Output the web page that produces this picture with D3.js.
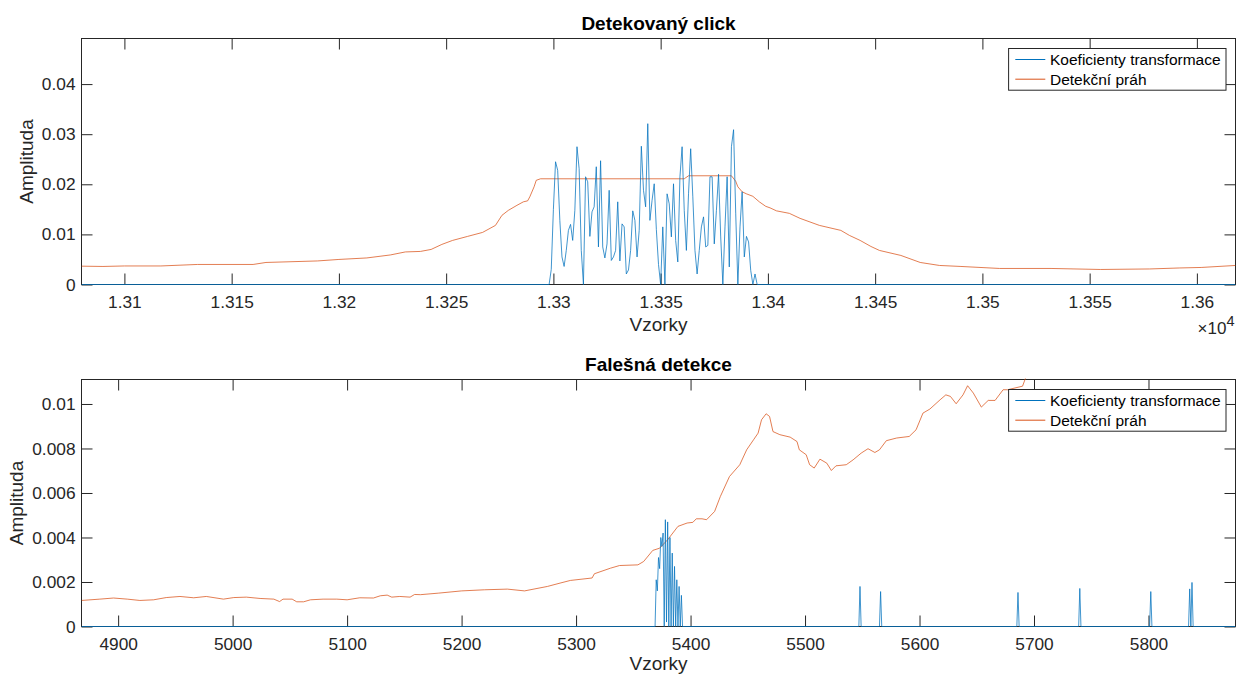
<!DOCTYPE html>
<html>
<head>
<meta charset="utf-8">
<script src="https://cdn.jsdelivr.net/npm/d3@7"></script>
<style>
  html, body { margin: 0; padding: 0; background: #fff; }
  svg { display: block; font-family: "Liberation Sans", Arial, Helvetica, sans-serif; }
</style>
</head>
<body>
<svg id="chart" width="1237" height="675"></svg>
<script>
// ── shared ──
const legendLabels = ['Koeficienty transformace', 'Detekční práh'];
const xLabel = 'Vzorky';
const yLabel = 'Amplituda';

// ── panel 1: Detekovaný click ──
const clickTitle = 'Detekovaný click';
const clickXDomain = [13080, 13618];
const clickYDomain = [0, 0.0491];
const clickXTicks = [13100, 13150, 13200, 13250, 13300, 13350, 13400, 13450, 13500, 13550, 13600];
const clickXTickLabels = ['1.31', '1.315', '1.32', '1.325', '1.33', '1.335', '1.34', '1.345', '1.35', '1.355', '1.36'];
const clickYTicks = [0, 0.01, 0.02, 0.03, 0.04];
const clickYTickLabels = ['0', '0.01', '0.02', '0.03', '0.04'];
const clickXExponent = '4';

// coefficients, one per sample starting at clickBurstStart (zero elsewhere)
const clickBurstStart = 13298;
const clickCoefs = [
  0, 0.003, 0.015, 0.0245, 0.0228, 0.0128, 0.0055, 0.0036, 0.0068, 0.0108,
  0.012, 0.0088, 0.0148, 0.0275, 0.0231, 0.0068, 0, 0.0215, 0.0205, 0.0096,
  0.0145, 0.0155, 0.0235, 0.0075, 0.0247, 0.0075, 0.0053, 0.0081, 0.0188, 0.0048,
  0.0055, 0.0068, 0.0165, 0.0047, 0.0121, 0.0115, 0.0021, 0.0029, 0.0068, 0.0147,
  0.0128, 0.0055, 0.0108, 0.0276, 0.0188, 0.0155, 0.0321, 0.0128, 0.0168, 0.0201,
  0.011, 0.004, 0, 0.0115, 0, 0.0181, 0.0161, 0.0095, 0.0201, 0.0088,
  0.0045, 0.0215, 0.0275, 0.0148, 0.0068, 0.0181, 0.0271, 0.0175, 0.0068, 0.0021,
  0.0068, 0.0115, 0.0135, 0.0075, 0.0078, 0.0215, 0.0215, 0.0081, 0.0148, 0.022,
  0.0095, 0, 0.0115, 0.0215, 0.0035, 0.0275, 0.0309, 0.0141, 0, 0.0115,
  0.0185, 0.0055, 0.0096, 0.0085, 0.0028, 0, 0.0021, 0
];
const clickThrSamples = [
  13080, 13090, 13100, 13117, 13134, 13160, 13166, 13190, 13200, 13213,
  13224, 13231, 13238, 13243, 13248, 13253, 13260, 13267, 13273, 13276,
  13279, 13283, 13286, 13288, 13289, 13291, 13292, 13294, 13361, 13363,
  13383, 13385, 13386, 13388, 13390, 13393, 13396, 13399, 13401, 13404,
  13410, 13415, 13424, 13434, 13438, 13443, 13448, 13452, 13462, 13471,
  13480, 13490, 13508, 13532, 13555, 13578, 13592, 13602, 13618
];
const clickThrValues = [
  0.00366, 0.0036, 0.0037, 0.0037, 0.004, 0.004, 0.0044, 0.0047, 0.005, 0.0053,
  0.0059, 0.0065, 0.0066, 0.007, 0.008, 0.0088, 0.0096, 0.0104, 0.0118, 0.0138,
  0.0148, 0.0158, 0.0165, 0.0167, 0.0175, 0.0195, 0.0208, 0.0211, 0.0211, 0.0217,
  0.0217, 0.0206, 0.0195, 0.0185, 0.0181, 0.0176, 0.0165, 0.0156, 0.0153, 0.0147,
  0.0142, 0.0132, 0.0118, 0.0108, 0.0098, 0.0088, 0.0076, 0.0068, 0.0058, 0.0044,
  0.0038, 0.0036, 0.0032, 0.0032, 0.003, 0.0031, 0.0033, 0.0034, 0.0038
];

// ── panel 2: Falešná detekce ──
const falseTitle = 'Falešná detekce';
const falseXDomain = [4868, 5876];
const falseYDomain = [0, 0.0111];
const falseXTicks = [4900, 5000, 5100, 5200, 5300, 5400, 5500, 5600, 5700, 5800];
const falseXTickLabels = ['4900', '5000', '5100', '5200', '5300', '5400', '5500', '5600', '5700', '5800'];
const falseYTicks = [0, 0.002, 0.004, 0.006, 0.008, 0.01];
const falseYTickLabels = ['0', '0.002', '0.004', '0.006', '0.008', '0.01'];

const falseClusterStart = 5369;
const falseCluster = [
  0, 0.0021, 0.0016, 0.0031, 0.0026, 0.004, 0.0036, 0.0042, 0, 0.0048,
  0.0002, 0.0047, 0, 0.004, 0, 0.0033, 0, 0.0027, 0, 0.0021,
  0, 0.0018, 0, 0.0014, 0
];
const falseSpikeSamples = [5548, 5566, 5686, 5740, 5802, 5836, 5838];
const falseSpikeValues = [0.0018, 0.00157, 0.00153, 0.00171, 0.00157, 0.00169, 0.00198];

const falseThrSamples = [
  4868, 4884, 4896, 4908, 4919, 4931, 4942, 4954, 4966, 4977,
  4992, 5001, 5012, 5024, 5036, 5041, 5044, 5052, 5056, 5062,
  5068, 5079, 5091, 5100, 5111, 5123, 5129, 5135, 5139, 5146,
  5155, 5159, 5164, 5180, 5200, 5220, 5240, 5255, 5265, 5275,
  5286, 5295, 5314, 5316, 5330, 5338, 5354, 5359, 5367, 5373,
  5380, 5389, 5397, 5402, 5405, 5410, 5414, 5421, 5426, 5434,
  5443, 5449, 5455, 5459, 5462, 5466, 5469, 5472, 5478, 5487,
  5493, 5495, 5501, 5504, 5508, 5513, 5519, 5523, 5527, 5536,
  5542, 5549, 5555, 5561, 5565, 5571, 5580, 5591, 5597, 5603,
  5609, 5618, 5623, 5627, 5632, 5638, 5642, 5647, 5654, 5660,
  5666, 5673, 5677, 5690, 5695, 5720, 5800, 5876
];
const falseThrValues = [
  0.00117, 0.00123, 0.00128, 0.00123, 0.00117, 0.0012, 0.0013, 0.00135, 0.00129, 0.00135,
  0.00123, 0.0013, 0.00132, 0.00126, 0.00123, 0.00112, 0.00123, 0.00123, 0.00111, 0.00111,
  0.0012, 0.00123, 0.00123, 0.0012, 0.00129, 0.00128, 0.00138, 0.00141, 0.00132, 0.00135,
  0.00132, 0.00144, 0.00143, 0.0015, 0.0016, 0.00165, 0.00168, 0.0016, 0.0017, 0.0018,
  0.00195, 0.00207, 0.00218, 0.00237, 0.00262, 0.00274, 0.00277, 0.00292, 0.00342, 0.00352,
  0.0039, 0.0045, 0.00465, 0.00468, 0.00484, 0.00484, 0.0048, 0.00517, 0.00584, 0.00674,
  0.00727, 0.00794, 0.00839, 0.00869, 0.00929, 0.00956, 0.00944, 0.00876, 0.00862, 0.00851,
  0.00831, 0.00794, 0.00772, 0.00727, 0.00712, 0.00752, 0.00734, 0.00701, 0.00722, 0.00727,
  0.00749, 0.00779, 0.00799, 0.00782, 0.00794, 0.00835, 0.00847, 0.00854, 0.00884, 0.00959,
  0.00977, 0.01019, 0.01041, 0.01034, 0.01001, 0.01041, 0.01082, 0.01049, 0.00986, 0.01016,
  0.01016, 0.01064, 0.01064, 0.0108, 0.0115, 0.0135, 0.015, 0.016
];

// ── style ──
const BLUE = '#0072BD', ORANGE = '#D95319', AX = '#262626';
const TICK_FS = 17.3, LABEL_FS = 19, LEGEND_FS = 15.5, TICK_LEN = 11;
const LINE_W = 0.75;

const svg = d3.select('#chart');

function coefPoints(xDomain, start, vals, spikes = [], spikeVals = []) {
  const pts = [[xDomain[0], 0]];
  vals.forEach((v, i) => pts.push([start + i, v]));
  spikes.forEach((s, i) => pts.push([s - 1, 0], [s, spikeVals[i]], [s + 1, 0]));
  pts.push([xDomain[1], 0]);
  return pts.sort((a, b) => a[0] - b[0]);
}

function drawPanel(p) {
  const x = d3.scaleLinear(p.xDomain, [p.left, p.right]);
  const y = d3.scaleLinear(p.yDomain, [p.bottom, p.top]);
  const g = svg.append('g');

  const styleAxis = sel => {
    sel.select('.domain').remove();
    sel.attr('color', AX).attr('font-family', null).attr('font-size', TICK_FS);
    sel.selectAll('.tick line').attr('stroke-width', 1);
    sel.selectAll('.tick text').attr('fill', AX);
  };

  g.append('g').attr('transform', `translate(0,${p.bottom})`)
    .call(d3.axisBottom(x).tickValues(p.xTicks).tickFormat((d, i) => p.xTickLabels[i])
      .tickSizeInner(-TICK_LEN).tickSizeOuter(0).tickPadding(11.5))
    .call(styleAxis);
  g.append('g').attr('transform', `translate(0,${p.top})`)
    .call(d3.axisTop(x).tickValues(p.xTicks).tickFormat('')
      .tickSizeInner(-TICK_LEN).tickSizeOuter(0))
    .call(styleAxis);
  g.append('g').attr('transform', `translate(${p.left},0)`)
    .call(d3.axisLeft(y).tickValues(p.yTicks).tickFormat((d, i) => p.yTickLabels[i])
      .tickSizeInner(-TICK_LEN).tickSizeOuter(0).tickPadding(6))
    .call(styleAxis);
  g.append('g').attr('transform', `translate(${p.right},0)`)
    .call(d3.axisRight(y).tickValues(p.yTicks).tickFormat('')
      .tickSizeInner(-TICK_LEN).tickSizeOuter(0))
    .call(styleAxis);

  g.append('rect')
    .attr('x', p.left).attr('y', p.top)
    .attr('width', p.right - p.left).attr('height', p.bottom - p.top)
    .attr('fill', 'none').attr('stroke', AX).attr('stroke-width', 1);

  // data
  svg.append('clipPath').attr('id', 'clip-' + p.id).append('rect')
    .attr('x', p.left).attr('y', p.top - 1)
    .attr('width', p.right - p.left).attr('height', p.bottom - p.top + 2);

  const line = d3.line().x(d => x(d[0])).y(d => y(d[1]));
  const data = g.append('g').attr('clip-path', `url(#clip-${p.id})`);
  data.append('path').datum(p.thr)
    .attr('d', line).attr('fill', 'none').attr('stroke', ORANGE).attr('stroke-width', LINE_W);
  data.append('path').datum(p.coef)
    .attr('d', line).attr('fill', 'none').attr('stroke', BLUE).attr('stroke-width', LINE_W);

  // title and labels
  g.append('text')
    .attr('x', (p.left + p.right) / 2).attr('y', p.top - 9)
    .attr('text-anchor', 'middle').attr('font-size', LABEL_FS).attr('font-weight', 'bold')
    .attr('fill', '#000').text(p.title);
  g.append('text')
    .attr('x', (p.left + p.right) / 2).attr('y', p.bottom + p.xLabelDy)
    .attr('text-anchor', 'middle').attr('font-size', LABEL_FS).attr('fill', AX)
    .text(xLabel);
  g.append('text')
    .attr('transform', `translate(${p.yLabelX},${(p.top + p.bottom) / 2}) rotate(-90)`)
    .attr('text-anchor', 'middle').attr('font-size', LABEL_FS).attr('fill', AX)
    .text(yLabel);

  if (p.exponent) {
    const t = g.append('text')
      .attr('x', p.right - 1).attr('y', p.bottom + 49.5)
      .attr('text-anchor', 'end').attr('font-size', 17).attr('fill', AX);
    t.append('tspan').text('×10');
    t.append('tspan').attr('dy', -8).attr('font-size', 14.5).text(p.exponent);
  }

  // legend
  const lw = 217.4, lh = 41.7;
  const lx = p.right - 9.5 - lw, ly = p.top + 10;
  const lg = g.append('g');
  lg.append('rect').attr('x', lx).attr('y', ly).attr('width', lw).attr('height', lh)
    .attr('fill', '#fff').attr('stroke', AX).attr('stroke-width', 1);
  [BLUE, ORANGE].forEach((c, i) => {
    const cy = ly + 11 + i * 19.7;
    lg.append('line').attr('x1', lx + 6.7).attr('x2', lx + 36.7)
      .attr('y1', cy).attr('y2', cy).attr('stroke', c).attr('stroke-width', 1);
    lg.append('text').attr('x', lx + 41.4).attr('y', cy + 5.5)
      .attr('font-size', LEGEND_FS).attr('fill', '#000').text(legendLabels[i]);
  });
}

drawPanel({
  id: 'click', title: clickTitle,
  left: 81.5, right: 1235.5, top: 38.5, bottom: 284.5, yLabelX: 33, xLabelDy: 46.5,
  xDomain: clickXDomain, yDomain: clickYDomain,
  xTicks: clickXTicks, xTickLabels: clickXTickLabels,
  yTicks: clickYTicks, yTickLabels: clickYTickLabels,
  exponent: clickXExponent,
  thr: clickThrSamples.map((s, i) => [s, clickThrValues[i]]),
  coef: coefPoints(clickXDomain, clickBurstStart, clickCoefs)
});

drawPanel({
  id: 'false', title: falseTitle,
  left: 81.5, right: 1235.5, top: 379.5, bottom: 626.5, yLabelX: 23, xLabelDy: 43,
  xDomain: falseXDomain, yDomain: falseYDomain,
  xTicks: falseXTicks, xTickLabels: falseXTickLabels,
  yTicks: falseYTicks, yTickLabels: falseYTickLabels,
  thr: falseThrSamples.map((s, i) => [s, falseThrValues[i]]),
  coef: coefPoints(falseXDomain, falseClusterStart, falseCluster, falseSpikeSamples, falseSpikeValues)
});
</script>
</body>
</html>
